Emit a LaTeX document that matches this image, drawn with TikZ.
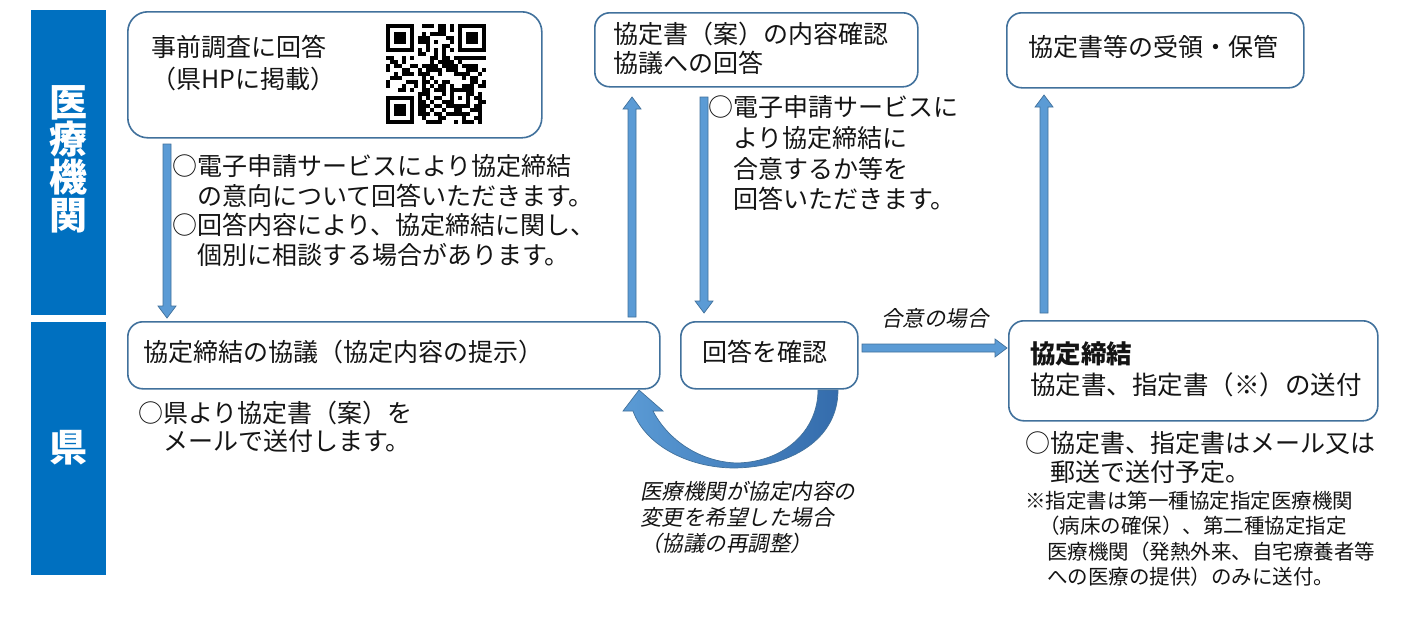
\documentclass[tikz,border=0pt]{standalone}
\usepackage{fontspec}
\setmainfont{Noto Sans CJK JP}
\newfontfamily\itjp[FakeSlant=0.2]{Noto Sans CJK JP}
\usetikzlibrary{calc}
\definecolor{band}{RGB}{0,112,192}
\definecolor{boxline}{RGB}{65,113,156}
\definecolor{arrfill}{RGB}{91,155,213}
\definecolor{arrdark}{RGB}{52,108,172}
\definecolor{txtc}{RGB}{20,20,20}

\tikzset{
  box/.style={draw=boxline, line width=1.6pt, rounded corners=15pt, fill=white, inner sep=0pt, anchor=north west},
  lane/.style={fill=band, inner sep=0pt, anchor=north west},
  lanetxt/.style={text=white, font=\fontsize{38}{37.7}\selectfont\bfseries, inner sep=0pt, align=center},
  txt/.style={inner sep=0pt, align=left, text=txtc, font=\fontsize{25}{29.5}\selectfont},
  smalltxt/.style={inner sep=0pt, align=left, text=txtc, font=\fontsize{20.5}{25.5}\selectfont},
  ittxt/.style={inner sep=0pt, align=left, text=txtc, font=\fontsize{21.5}{26}\selectfont\itjp},
  blockarr/.style={fill=arrfill, draw=boxline, line width=0.7pt, line join=miter},
}

\newcommand\downarr[2]{\path[blockarr] let \p1=(#1),\p2=(#2) in
  (\x1-4pt,\y1) -- (\x1-4pt,\y2+12pt) -- (\x1-9pt,\y2+12pt) -- (\x1,\y2) --
  (\x1+9pt,\y2+12pt) -- (\x1+4pt,\y2+12pt) -- (\x1+4pt,\y1) -- cycle;}
\newcommand\uparr[2]{\path[blockarr] let \p1=(#1),\p2=(#2) in
  (\x1-4pt,\y1) -- (\x1-4pt,\y2-12pt) -- (\x1-9pt,\y2-12pt) -- (\x1,\y2) --
  (\x1+9pt,\y2-12pt) -- (\x1+4pt,\y2-12pt) -- (\x1+4pt,\y1) -- cycle;}
\newcommand\rightarr[2]{\path[blockarr] let \p1=(#1),\p2=(#2) in
  (\x1,\y1-4pt) -- (\x2-12pt,\y1-4pt) -- (\x2-12pt,\y1-9pt) -- (\x2,\y1) --
  (\x2-12pt,\y1+9pt) -- (\x2-12pt,\y1+4pt) -- (\x1,\y1+4pt) -- cycle;}

\begin{document}
\begin{tikzpicture}[x=1pt,y=-1pt]
\useasboundingbox[fill=white] (0,0) rectangle (1403,624);

% lanes
\node[lane, minimum width=75pt, minimum height=305pt] (band1) at (31,10) {};
\node[lane, minimum width=75pt, minimum height=253pt] (band2) at (31,322) {};
\node[lanetxt] (lt1) at (68,159) {医\\療\\機\\関};
\node[lanetxt] (lt2) at (68,448) {県};

% boxes
\node[box, rounded corners=20pt, minimum width=414pt, minimum height=126pt] (A) at (127,11) {};
\node[box, minimum width=323pt, minimum height=74pt] (B) at (594,12) {};
\node[box, minimum width=297pt, minimum height=75pt] (C) at (1006,12) {};
\node[box, minimum width=532pt, minimum height=67pt] (D) at (127,321) {};
\node[box, minimum width=177pt, minimum height=67pt] (E) at (680,321) {};
\node[box, minimum width=369pt, minimum height=100pt] (F) at (1008,320) {};

% box texts
\node[txt, anchor=north west, font=\fontsize{25}{32}\selectfont] (tA) at (151,34.5) {事前調査に回答\\（県HPに掲載）};
\node[txt, anchor=north west, font=\fontsize{25}{29}\selectfont] (tB) at (613,21.5) {協定書（案）の内容確認\\協議への回答};
\node[txt, anchor=west] (tC) at (1028,47) {協定書等の受領・保管};
\node[txt, anchor=west] (tD) at (143,352) {協定締結の協議（協定内容の提示）};
\node[txt, anchor=west] (tE) at (702,352) {回答を確認};
\node[txt, anchor=north west, font=\fontsize{25.5}{31}\selectfont] (tF) at (1030,341.5) {\textbf{協定締結}\\協定書、指定書（※）の送付};

% QR code
\begin{scope}[shift={(386,24)}]
  \pgfmathsetseed{12}
  \foreach \i in {0,...,24}{\foreach \j in {0,...,24}{
    \pgfmathtruncatemacro\skipit{((\i<8)&&(\j<8))||((\i>16)&&(\j<8))||((\i<8)&&(\j>16))||((\i>15)&&(\i<21)&&(\j>15)&&(\j<21))||(\i==6)||(\j==6)}
    \pgfmathtruncatemacro\onit{rnd<0.5}
    \ifnum\skipit=0 \ifnum\onit=1 \fill (4*\i,4*\j) rectangle ++(4.15,4.15);\fi\fi
  }}
  \foreach \k in {8,10,...,16}{\fill (4*\k,24) rectangle ++(4.15,4.15); \fill (24,4*\k) rectangle ++(4.15,4.15);}
  \foreach \ox/\oy in {0/0,18/0,0/18}{
    \fill (4*\ox,4*\oy) rectangle ++(28,28);
    \fill[white] (4*\ox+4,4*\oy+4) rectangle ++(20,20);
    \fill (4*\ox+8,4*\oy+8) rectangle ++(12,12);}
  \fill (64,64) rectangle ++(20,20);
  \fill[white] (68,68) rectangle ++(12,12);
  \fill (72,72) rectangle ++(4,4);
\end{scope}

% arrow end points
\coordinate (a1s) at (167,144);  \coordinate (a1e) at (167,318);
\coordinate (a2s) at (632,317);  \coordinate (a2e) at (632,97);
\coordinate (a3s) at (704,97);   \coordinate (a3e) at (704,313);
\coordinate (a4s) at (862,348);  \coordinate (a4e) at (1007,348);
\coordinate (a5s) at (1044,313); \coordinate (a5e) at (1044,95);

\downarr{a1s}{a1e}
\uparr{a2s}{a2e}
\downarr{a3s}{a3e}
\rightarr{a4s}{a4e}
\uparr{a5s}{a5e}

% curved return arrow
\path[draw=boxline, line width=0.7pt, left color=arrfill, right color=arrdark]
  (818,390) -- (838,390) .. controls (838,440) and (790,467) .. (735,468)
  .. controls (688,468) and (645,445) .. (633,411) -- (623,411) -- (639,390)
  -- (663,411) -- (653,411) .. controls (668,440) and (700,462) .. (737,463)
  .. controls (785,462) and (818,430) .. (818,390) -- cycle;

% annotation texts
\node[txt, anchor=north west] (n1) at (172,154.5) {○電子申請サービスにより協定締結\\　の意向について回答いただきます。\\○回答内容により、協定締結に関し、\\　個別に相談する場合があります。};
\node[txt, anchor=north west, font=\fontsize{25}{30.7}\selectfont] (n2) at (708,95.5) {○電子申請サービスに\\　より協定締結に\\　合意するか等を\\　回答いただきます。};
\node[txt, anchor=north west, font=\fontsize{25}{28.5}\selectfont] (n3) at (138,400.5) {○県より協定書（案）を\\　メールで送付します。};
\node[ittxt, anchor=west] (n4) at (881,318) {合意の場合};
\node[ittxt, anchor=north west] (n5) at (640,481) {医療機関が協定内容の\\変更を希望した場合\\（協議の再調整）};
\node[txt, anchor=north west, font=\fontsize{25}{29}\selectfont] (n6) at (1025,431.5) {○協定書、指定書はメール又は\\　郵送で送付予定。};
\node[smalltxt, anchor=north west] (n7) at (1025,490.5) {※指定書は第一種協定指定医療機関\\\hspace*{14pt}（病床の確保）、第二種協定指定\\\hspace*{22pt}医療機関（発熱外来、自宅療養者等\\\hspace*{22pt}への医療の提供）のみに送付。};
\end{tikzpicture}
\end{document}
